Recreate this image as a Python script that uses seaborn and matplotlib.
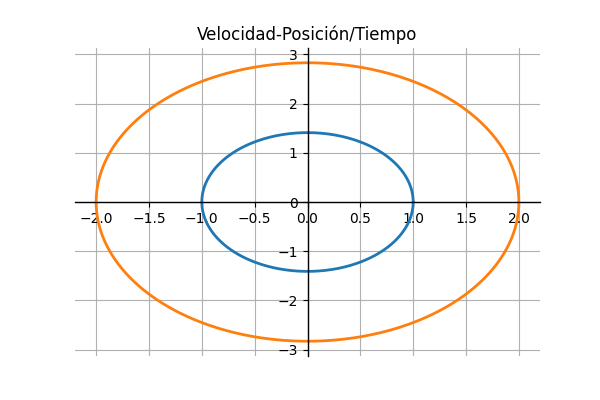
import numpy as np
import matplotlib
matplotlib.use("Agg")
import matplotlib.pyplot as plt
import seaborn as sns

# Amplitudes: position (x) and velocity (v)
pos_amplitudes = [1.0, 2.0]
vel_amplitudes = [1.41, 2.83]
colors = ["#1f77b4", "#ff7f0e"]

sns.set_style("ticks")
plt.rcParams['font.family'] = ['DejaVu Sans']

fig, ax = plt.subplots(figsize=(6, 4), dpi=100)

t = np.linspace(0, 2 * np.pi, 400)
for a, b, c in zip(pos_amplitudes, vel_amplitudes, colors):
    sns.lineplot(x=a * np.cos(t), y=-b * np.sin(t), ax=ax, color=c,
                 sort=False, estimator=None, linewidth=2)

ax.spines['left'].set_position('zero')
ax.spines['bottom'].set_position('zero')
ax.spines['right'].set_visible(False)
ax.spines['top'].set_visible(False)
for s in ['left', 'bottom']:
    ax.spines[s].set_color('black')
    ax.spines[s].set_linewidth(1.0)
ax.set_xlim(-2.2, 2.2)
ax.set_ylim(-3.13, 3.13)
ax.set_xticks(np.arange(-2, 2.01, 0.5))
ax.set_yticks(np.arange(-3, 3.01, 1))
ax.tick_params(colors='black', labelsize=10, length=3.5, width=0.8)
ax.grid(True, color='#b0b0b0', linewidth=0.8)
ax.set_title("Velocidad-Posición/Tiempo", fontsize=12, color='black')

fig.savefig("out.png", dpi=100)
